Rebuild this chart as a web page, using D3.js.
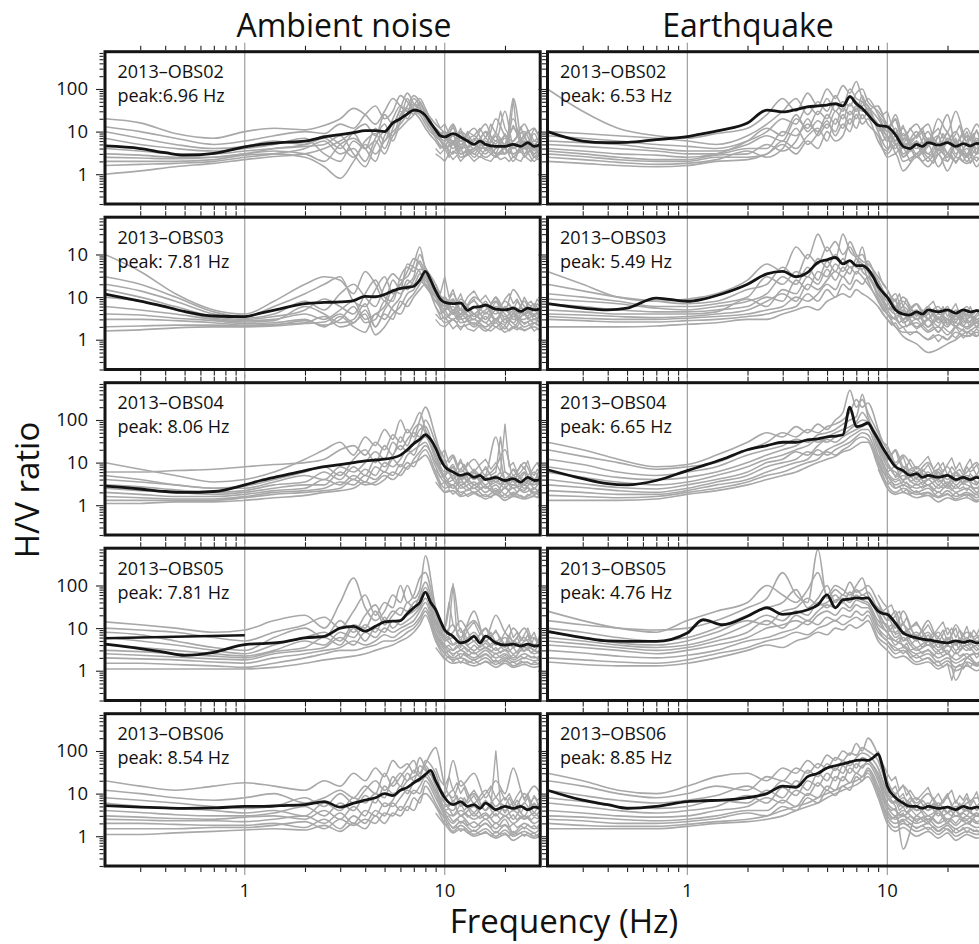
<!DOCTYPE html>
<html>
<head>
<meta charset="utf-8">
<script src="https://cdn.jsdelivr.net/npm/d3@7"></script>
<style>
  html, body { margin: 0; padding: 0; background: #ffffff; }
  svg { display: block; }
</style>
</head>
<body>
<svg id="chart" width="979" height="944"></svg>
<script>
// ---------------- DATA ----------------
const columnTitles = ["Ambient noise", "Earthquake"];
const stations = ["2013\u2013OBS02", "2013\u2013OBS03", "2013\u2013OBS04", "2013\u2013OBS05", "2013\u2013OBS06"];
const peaksAmbient = ["peak:6.96 Hz", "peak: 7.81 Hz", "peak: 8.06 Hz", "peak: 7.81 Hz", "peak: 8.54 Hz"];
const peaksQuake = ["peak: 6.53 Hz", "peak: 5.49 Hz", "peak: 6.65 Hz", "peak: 4.76 Hz", "peak: 8.85 Hz"];

const freqDomain = [0.2, 30];
const ratioDomain = [0.2, 750];
const xMajorTicks = [1, 10];
const xTickLabels = ["1", "10"];
const xMinorTicks = [0.3, 0.4, 0.5, 0.6, 0.7, 0.8, 0.9, 2, 3, 4, 5, 6, 7, 8, 9, 20];
const yMajorTicks = [100, 10, 1];
const yMinorTicks = [0.2, 0.3, 0.4, 0.5, 0.6, 0.7, 0.8, 0.9, 2, 3, 4, 5, 6, 7, 8, 9,
                     20, 30, 40, 50, 60, 70, 80, 90, 200, 300, 400, 500, 600, 700];
const rowYTickLabels = [["100", "10", "1"], ["10", "10", "1"], ["100", "10", "1"], ["100", "10", "1"], ["100", "10", "1"]];
const xAxisTitle = "Frequency (Hz)";
const yAxisTitle = "H/V ratio";

// frequencies (Hz) at which the individual (gray) curves are sampled
const freqGray = [0.2, 0.3, 0.45, 0.7, 1, 1.4, 2, 2.5, 3, 3.5, 4, 4.5, 5, 5.5, 6, 6.5, 7, 7.5, 8, 9, 10, 11, 12, 14, 16, 18, 20, 22, 25, 28, 30];
// frequencies (Hz) for the noisy high-frequency part of further individual curves
const freqHigh = [9, 9.5, 10, 10.5, 11, 11.5, 12, 12.5, 13, 14, 15, 16, 17, 18, 19, 20, 21, 22, 23, 24, 25, 26, 27, 28, 29, 30];
// frequencies (Hz) at which the mean (black) curves are sampled
const freqMedian = [0.2, 0.3, 0.4, 0.5, 0.7, 1, 1.2, 1.5, 2, 2.5, 3, 3.5, 4, 4.5, 5, 5.5, 6, 6.5, 7, 7.5, 8, 8.5, 9, 9.5, 10, 11, 12, 13, 14, 15, 16, 18, 20, 22, 24, 26, 28, 30];

// ---- Ambient noise ----
const ambientOBS02Gray = [
  [20, 16, 9, 7, 10, 12, 11, 14, 20, 35, 25, 15, 30, 60, 40, 30, 45, 35, 20, 12, 8, 15, 6, 12, 5, 20, 8, 6, 15, 5, 8],
  [13, 10, 7, 5, 6, 8, 10, 9, 15, 12, 25, 40, 20, 30, 70, 50, 30, 25, 15, 8, 10, 6, 9, 4, 10, 6, 30, 5, 8, 12, 6],
  [10, 7, 5, 4, 4.5, 6, 5, 7, 4, 10, 15, 8, 25, 15, 35, 80, 45, 30, 20, 10, 6, 12, 5, 8, 4, 9, 5, 12, 4, 6, 5],
  [7, 5, 4, 3.5, 4, 5, 7, 3, 2, 6, 4, 12, 6, 20, 40, 30, 60, 40, 18, 9, 5, 8, 4, 6, 15, 4, 7, 4, 6, 3, 4],
  [4, 3.5, 3, 3, 3.5, 4, 4.5, 5, 8, 3, 1.5, 5, 10, 8, 25, 40, 70, 50, 25, 12, 7, 5, 10, 5, 4, 8, 3, 6, 10, 4, 5],
  [3, 2.8, 2.5, 2.5, 3, 3.5, 3, 2, 5, 7, 4, 2, 8, 15, 20, 35, 25, 45, 30, 15, 9, 4, 6, 3, 7, 3, 5, 20, 3, 9, 4],
  [2.5, 2.4, 2.3, 2.5, 3, 4, 5, 8, 5, 2.5, 6, 9, 4, 12, 30, 20, 40, 60, 35, 10, 6, 9, 3, 5, 3, 6, 4, 3, 5, 3, 6],
  [2, 2, 2, 2.2, 2.8, 3, 2.5, 1.5, 0.8, 2, 5, 3, 6, 10, 15, 25, 35, 30, 20, 8, 5, 3, 7, 2.5, 5, 2.5, 4, 2, 7, 2.5, 3],
  [1.6, 1.7, 1.8, 2, 2.5, 3, 4, 6, 3, 4, 2, 7, 15, 6, 18, 60, 30, 20, 12, 6, 4, 6, 3, 4, 2.5, 4, 8, 3, 4, 2, 3.5],
  [1, 1.2, 1.5, 1.8, 2.2, 2.6, 3, 4, 6, 9, 4, 6, 3, 8, 12, 18, 25, 50, 25, 7, 4, 5, 2.5, 3.5, 6, 3, 3, 60, 3, 4, 2.5]
];
const ambientOBS02GrayHigh = [
  [20, 12, 15, 9, 14, 8, 12, 7, 10, 8, 12, 7, 15, 9, 30, 12, 8, 14, 9, 13, 7, 11, 8, 12, 9, 10],
  [12, 8, 10, 6, 9, 5, 8, 6, 9, 5, 7, 10, 6, 8, 5, 9, 6, 60, 8, 6, 9, 5, 8, 6, 7, 6],
  [8, 6, 4, 7, 5, 8, 4, 6, 4, 7, 5, 4, 6, 5, 7, 4, 6, 4, 5, 7, 4, 6, 5, 4, 6, 5],
  [6, 4, 5, 3, 6, 4, 3.5, 5, 3, 4, 6, 3.5, 4.5, 3, 5, 4, 3, 5, 3.5, 4, 6, 3, 4.5, 3.5, 4, 4.5],
  [4, 3, 4, 2.5, 3.5, 3, 4.5, 2.5, 3.5, 3, 2.5, 4, 3, 2.5, 3.5, 3, 4, 2.5, 3, 3.5, 2.5, 3, 4, 2.5, 3, 3],
  [3, 2.5, 2, 3, 2.2, 2.8, 2, 2.5, 3, 2, 2.6, 2.2, 2, 2.8, 2.2, 2.5, 2, 2.6, 2.2, 2, 2.8, 2.3, 2, 2.6, 2.2, 2.4]
];
const ambientOBS02Median = [4.6, 4.0, 3.2, 2.8, 3.1, 4.4, 5, 5.5, 6, 7.5, 8.5, 9.5, 10.5, 10.5, 10, 16, 20, 26, 32, 30, 24, 16, 11, 8, 7.5, 9, 7.5, 6, 5, 6, 5, 4.5, 4.5, 5, 4.5, 5.5, 4.5, 5];

const ambientOBS03Gray = [
  [100, 40, 12, 5, 4, 8, 20, 30, 25, 12, 40, 20, 8, 25, 15, 60, 50, 40, 20, 10, 6, 12, 5, 8, 4, 10, 5, 15, 6, 4, 5],
  [30, 20, 10, 4.5, 3.5, 6, 12, 20, 30, 8, 6, 15, 30, 12, 20, 40, 80, 60, 30, 12, 5, 8, 4, 10, 6, 4, 8, 5, 4, 7, 4],
  [20, 14, 8, 4, 3.2, 4, 8, 5, 12, 20, 10, 6, 18, 35, 25, 30, 60, 150, 40, 8, 10, 5, 7, 3.5, 5, 8, 3, 6, 4, 5, 3.5],
  [15, 10, 6, 3.5, 3, 3.5, 5, 9, 6, 4, 12, 25, 10, 8, 30, 50, 40, 70, 35, 15, 8, 4, 9, 4, 7, 3, 5, 3.5, 8, 3, 4],
  [10, 8, 5, 3.2, 2.8, 3, 4, 3, 5, 8, 3, 4, 6, 15, 12, 20, 30, 100, 50, 20, 6, 9, 3.5, 6, 3, 6, 4, 2.5, 5, 3.5, 6],
  [6, 5, 4, 3, 2.6, 2.8, 6, 4, 2.5, 3, 7, 2, 5, 10, 20, 15, 25, 45, 40, 12, 7, 4, 5, 3, 8, 2.5, 6, 3, 3, 5, 3],
  [4, 3.8, 3.2, 2.8, 2.4, 2.5, 3, 2, 3.5, 2, 1.5, 4, 3, 6, 10, 25, 20, 35, 25, 10, 5, 6, 3, 4, 2.5, 5, 2.5, 4, 2.5, 3, 2.5],
  [3, 3, 2.8, 2.5, 2.2, 2.3, 2.5, 3.5, 2, 2.5, 4, 1.3, 2, 4, 6, 12, 15, 25, 18, 8, 4, 3, 4, 2, 3.5, 2, 3, 2, 4, 2.5, 3],
  [2, 2.1, 2.2, 2.2, 2.1, 2.2, 2.8, 2.2, 3, 6, 2.5, 3, 8, 5, 4, 8, 12, 20, 30, 12, 3, 5, 2.5, 3, 2, 3, 1.8, 3.5, 2, 2.5, 2],
  [1.6, 1.7, 1.9, 2, 2, 2.1, 2.4, 2.6, 4, 2.5, 5, 2, 4, 3, 8, 6, 10, 15, 20, 6, 2.5, 3, 2, 2.5, 1.6, 2.5, 1.5, 2, 1.7, 2, 1.6]
];
const ambientOBS03GrayHigh = [
  [20, 12, 30, 10, 15, 8, 12, 7, 10, 14, 8, 11, 7, 10, 6, 9, 12, 7, 9, 6, 10, 7, 8, 6, 9, 7],
  [12, 8, 10, 6, 9, 7, 5, 8, 6, 9, 5, 7, 5, 8, 6, 5, 7, 5, 8, 6, 5, 7, 6, 5, 7, 6],
  [8, 6, 5, 7, 4, 6, 5, 4, 6, 4, 5, 7, 4, 5, 4, 6, 4, 5, 3.5, 6, 4, 5, 4, 6, 4.5, 5],
  [6, 4, 5, 3.5, 4.5, 3, 4, 5, 3, 4, 3, 4.5, 3.5, 3, 4, 3.5, 3, 4.5, 3, 3.5, 4, 3, 3.5, 4, 3, 3.5],
  [4, 3, 3.5, 2.5, 3, 2.5, 3.5, 2.5, 3, 2.2, 3, 2.5, 2, 3, 2.5, 2.2, 3, 2.4, 2, 2.8, 2.3, 2.6, 2, 2.5, 2.2, 2.4],
  [3, 2.2, 2, 2.5, 1.8, 2.2, 1.7, 2.3, 1.8, 1.6, 2.2, 1.8, 1.6, 2, 1.7, 2.1, 1.6, 1.9, 1.7, 2, 1.6, 1.8, 2, 1.6, 1.8, 1.7]
];
const ambientOBS03Median = [11.8, 8, 6, 4.6, 3.6, 3.5, 4.2, 5.3, 7, 7.5, 7.7, 8.3, 10.4, 10.2, 11.5, 14, 16, 17, 18, 25, 40, 25, 14, 9, 7.5, 7, 7.3, 4.9, 5.8, 6, 6.5, 5.2, 5, 5.5, 4.6, 5.5, 5, 5.2];

const ambientOBS04Gray = [
  [10, 7, 5, 3.5, 4, 6, 12, 20, 30, 15, 40, 25, 60, 35, 100, 50, 80, 150, 60, 20, 10, 15, 6, 12, 5, 8, 20, 5, 10, 4, 8],
  [6, 6, 6.5, 7, 8, 9, 10, 12, 20, 25, 15, 30, 20, 45, 30, 60, 40, 100, 200, 40, 8, 5, 10, 4, 7, 3.5, 6, 4, 3, 6, 3.5],
  [5, 4, 3, 2.5, 2.8, 4, 6, 8, 5, 12, 20, 10, 25, 15, 40, 25, 60, 80, 50, 15, 6, 8, 4, 6, 3, 5, 3, 7, 3.5, 3, 5],
  [4, 3.5, 3, 2.5, 2.5, 3.5, 5, 4, 8, 6, 10, 18, 12, 30, 20, 35, 50, 40, 100, 30, 12, 4, 7, 3, 5, 40, 4, 3, 6, 2.5, 4],
  [3, 2.7, 2.3, 2, 2.2, 3, 3.5, 6, 4, 8, 5, 12, 8, 15, 25, 18, 30, 60, 70, 15, 5, 9, 3, 5, 2.5, 4, 2.5, 5, 2.5, 4, 3],
  [2.5, 2.2, 2, 1.8, 2, 2.5, 3, 3, 6, 4, 7, 5, 10, 8, 12, 20, 15, 30, 40, 12, 4, 3, 5, 2.5, 4, 2, 3.5, 2.5, 3, 2, 2.5],
  [2, 1.8, 1.6, 1.6, 1.8, 2.2, 2.5, 4, 3, 5, 3.5, 8, 6, 12, 8, 15, 20, 25, 30, 8, 3.5, 5, 2.5, 3.5, 2, 3, 1.8, 3, 2, 2.5, 1.8],
  [1.6, 1.5, 1.4, 1.4, 1.6, 2, 2.2, 2.5, 3.5, 3, 5, 4, 6, 5, 9, 7, 12, 18, 25, 10, 4, 2.5, 3.5, 2, 2.8, 1.8, 2.5, 1.7, 3, 1.8, 2.2],
  [1.3, 1.3, 1.3, 1.3, 1.5, 1.8, 2, 2.2, 2.5, 4, 3, 3.5, 5, 4, 6, 10, 8, 15, 20, 6, 2.5, 3, 2, 2.5, 1.6, 2.2, 1.5, 2, 1.5, 2, 1.6],
  [1.1, 1.1, 1.2, 1.2, 1.3, 1.5, 1.7, 2, 2.2, 2.5, 3.5, 3, 4, 6, 5, 8, 10, 12, 15, 5, 2, 2.2, 1.6, 2, 1.4, 1.8, 1.3, 1.6, 1.4, 1.6, 1.5]
];
const ambientOBS04GrayHigh = [
  [30, 15, 20, 10, 14, 8, 12, 7, 10, 6, 9, 12, 7, 10, 6, 80, 8, 10, 6, 9, 7, 11, 6, 8, 10, 7],
  [15, 9, 12, 6, 8, 5, 7, 9, 5, 7, 5, 8, 5, 6, 40, 6, 5, 7, 5, 6, 8, 5, 6, 5, 7, 6],
  [10, 6, 5, 7, 4, 6, 4, 5, 3.5, 6, 4, 5, 3.5, 4.5, 6, 4, 5, 3.5, 5, 4, 6, 3.5, 5, 4, 4.5, 5],
  [7, 4.5, 5, 3.5, 4, 3, 4.5, 3, 4, 3, 3.5, 4.5, 3, 3.5, 3, 4, 3, 4, 2.8, 3.5, 3, 4, 3, 3.5, 3, 3.5],
  [5, 3, 3.5, 2.5, 3, 2.2, 3, 2.5, 2.2, 3, 2.4, 2.8, 2.2, 2.5, 2, 2.8, 2.2, 2.6, 2, 2.4, 2.2, 2.6, 2, 2.5, 2.2, 2.3],
  [3.5, 2.5, 2, 2.3, 1.8, 2.2, 1.7, 2, 1.6, 1.9, 1.6, 1.8, 1.5, 2, 1.6, 1.8, 1.5, 1.9, 1.6, 1.7, 1.5, 1.8, 1.6, 1.7, 1.5, 1.6]
];
const ambientOBS04Median = [2.8, 2.4, 2.1, 2, 2.1, 3, 3.8, 4.8, 6.5, 8, 9, 10, 11, 11.5, 12, 13, 15, 20, 28, 35, 45, 35, 22, 12, 8, 6, 5, 5.5, 4.5, 5, 4, 4.5, 3.8, 4.2, 3.5, 4.5, 3.8, 4];

const ambientOBS05Gray = [
  [14, 12, 10, 8, 9, 15, 20, 10, 40, 150, 30, 15, 25, 60, 40, 100, 50, 80, 500, 30, 10, 100, 8, 15, 6, 20, 8, 5, 10, 4, 6],
  [10, 9, 8, 6, 5, 8, 12, 18, 10, 25, 60, 20, 40, 30, 100, 40, 60, 150, 200, 25, 8, 12, 6, 25, 5, 8, 4, 10, 5, 6, 4],
  [8, 7, 5, 3.5, 3, 6, 10, 6, 15, 8, 20, 35, 15, 25, 20, 40, 30, 60, 120, 20, 6, 8, 15, 5, 10, 4, 6, 3.5, 6, 3, 5],
  [6, 5, 4, 3, 2.5, 4, 6, 8, 5, 12, 10, 25, 12, 20, 30, 25, 40, 50, 90, 15, 5, 6, 4, 8, 3.5, 5, 3, 5, 3, 4, 3.5],
  [4, 3.5, 3, 2.5, 2.2, 3, 5, 4, 8, 6, 12, 8, 18, 10, 15, 20, 25, 35, 70, 12, 6, 4, 5, 3, 5, 3, 4, 2.5, 4, 3, 2.5],
  [3, 2.8, 2.5, 2.2, 2, 2.8, 3.5, 6, 4, 10, 5, 10, 8, 15, 12, 15, 20, 30, 50, 10, 4, 3, 4, 2.5, 3.5, 2.5, 3, 2, 3.5, 2.5, 3],
  [2.5, 2.3, 2.1, 1.9, 1.8, 2.5, 3, 3.5, 6, 4, 8, 6, 10, 8, 10, 12, 15, 25, 40, 8, 3.5, 2.5, 3, 2, 3, 2, 2.5, 1.8, 2.5, 2, 2.2],
  [2, 1.9, 1.8, 1.6, 1.5, 2, 2.5, 3, 3.5, 5, 4, 5, 7, 6, 8, 10, 12, 18, 30, 7, 3, 2, 2.5, 1.8, 2.5, 1.6, 2, 1.6, 2, 1.7, 1.8],
  [1.5, 1.5, 1.4, 1.3, 1.2, 1.5, 2, 2.5, 3, 3, 3.5, 4, 5, 5, 6, 8, 10, 15, 25, 6, 2.5, 1.8, 2, 1.5, 2, 1.4, 1.8, 1.3, 1.6, 1.4, 1.5],
  [1.1, 1.1, 1.1, 1.1, 1.1, 1.2, 1.5, 1.8, 2, 2.2, 2.5, 3, 3.5, 4, 5, 6, 8, 12, 20, 5, 2, 1.5, 1.6, 1.3, 1.6, 1.2, 1.5, 1.2, 1.4, 1.2, 1.3]
];
const ambientOBS05GrayHigh = [
  [30, 15, 10, 40, 12, 8, 10, 6, 9, 14, 7, 10, 6, 9, 5, 8, 12, 6, 8, 5, 7, 10, 6, 8, 5, 7],
  [15, 10, 6, 9, 110, 7, 5, 8, 5, 7, 4.5, 6, 8, 4.5, 6, 4, 7, 4.5, 6, 4, 5, 7, 4, 6, 4.5, 5],
  [10, 7, 5, 6, 4, 5, 3.5, 6, 4, 5, 3.5, 4.5, 3.5, 5, 4, 3.5, 5, 3.5, 4.5, 3.5, 4, 3, 4.5, 3.5, 4, 3.5],
  [7, 5, 3.5, 4, 3, 4, 3, 3.5, 2.8, 4, 3, 3.5, 2.8, 3.5, 2.6, 3.2, 2.8, 3.6, 2.6, 3, 2.8, 3.4, 2.6, 3, 2.8, 3],
  [5, 3.5, 2.5, 3, 2.2, 2.8, 2, 2.6, 2.2, 2.8, 2, 2.4, 2, 2.6, 2, 2.3, 1.9, 2.4, 2, 2.2, 1.9, 2.3, 2, 2.2, 1.9, 2.1],
  [3.5, 2.5, 1.8, 2.2, 1.6, 2, 1.5, 1.9, 1.5, 1.8, 1.4, 1.7, 1.5, 1.8, 1.4, 1.7, 1.5, 1.6, 1.4, 1.7, 1.5, 1.6, 1.4, 1.6, 1.5, 1.5]
];
const ambientOBS05Median = [4.2, 3.3, 2.7, 2.3, 2.7, 4.1, 4.3, 4.6, 5.9, 6.4, 10, 11, 8.5, 11, 14, 14.5, 15, 22, 30, 40, 70, 40, 27, 15, 9, 6.4, 4.5, 5, 6.4, 4.5, 6.5, 4.5, 4, 4.2, 3.8, 4.2, 3.8, 4];
const ambientOBS05ExtraFreq = [0.2, 1];
const ambientOBS05ExtraValues = [5.8, 6.8];

const ambientOBS06Gray = [
  [20, 15, 12, 15, 18, 15, 12, 20, 15, 30, 20, 40, 25, 60, 40, 50, 30, 70, 40, 20, 10, 60, 15, 30, 8, 20, 10, 40, 8, 15, 10],
  [12, 10, 8, 7, 8, 10, 6, 8, 12, 8, 15, 10, 30, 15, 25, 40, 60, 30, 50, 120, 15, 8, 20, 6, 12, 5, 8, 4, 10, 5, 6],
  [8, 7, 6, 5, 4.5, 5, 8, 5, 10, 6, 12, 20, 12, 18, 30, 20, 35, 25, 60, 30, 8, 12, 5, 10, 4, 8, 4, 6, 3, 8, 4],
  [6, 5, 4.5, 4, 3.5, 4, 3, 6, 4, 8, 6, 10, 8, 25, 15, 30, 20, 45, 35, 20, 6, 4, 8, 3, 6, 3, 5, 2.5, 6, 3, 4],
  [4, 3.6, 3.2, 3, 3, 3.5, 5, 3, 6, 4, 9, 6, 15, 10, 12, 20, 25, 30, 45, 15, 5, 6, 3, 5, 2.5, 4, 3, 4, 2.5, 3.5, 2.5],
  [3, 2.8, 2.6, 2.5, 2.8, 3, 2.5, 4, 2.5, 5, 3, 8, 5, 7, 15, 10, 18, 20, 30, 12, 4, 3, 4, 2.5, 3.5, 2, 3, 2, 3, 2, 2.5],
  [2.5, 2.4, 2.3, 2.3, 2.2, 2.5, 3, 2, 3.5, 2, 4, 3, 6, 5, 8, 12, 10, 15, 25, 10, 3.5, 2, 3, 1.6, 2.5, 1.5, 2.5, 1.2, 2, 1.5, 2],
  [2, 2, 1.9, 1.8, 1.8, 2, 1.6, 2.5, 1.5, 3, 2, 4, 3, 6, 4, 7, 12, 10, 20, 8, 3, 1.6, 2.2, 1.3, 2, 1.2, 1.8, 1.1, 1.6, 1.2, 1.5],
  [1.5, 1.5, 1.5, 1.6, 1.6, 1.8, 2.2, 1.5, 2.5, 1.8, 2.5, 2, 3.5, 3, 5, 4, 8, 6, 15, 6, 2.5, 1.3, 1.8, 1.1, 1.5, 1, 1.4, 1, 1.3, 1, 1.2],
  [1.1, 1.1, 1.2, 1.3, 1.4, 1.5, 1.4, 1.8, 1.3, 2, 1.5, 3, 2, 3.5, 3, 5, 4, 8, 10, 5, 2, 1.2, 1.5, 1, 1.2, 0.9, 1.1, 0.8, 1.1, 0.9, 1]
];
const ambientOBS06GrayHigh = [
  [40, 20, 15, 25, 12, 18, 10, 14, 8, 12, 7, 10, 15, 8, 12, 7, 10, 6, 9, 12, 7, 10, 6, 9, 7, 8],
  [20, 12, 8, 10, 6, 9, 5, 8, 6, 9, 5, 7, 5, 100, 6, 5, 8, 5, 7, 5, 6, 8, 5, 6, 5, 6],
  [12, 8, 6, 5, 7, 4, 6, 4, 5, 3.5, 5, 4, 6, 4, 5, 3.5, 5, 4, 4.5, 3.5, 5, 4, 4.5, 3.5, 4.5, 4],
  [8, 5, 4, 4.5, 3, 4, 3, 3.5, 2.8, 3.5, 2.6, 3.2, 2.6, 3.4, 2.5, 3, 2.6, 3.2, 2.4, 3, 2.6, 3, 2.4, 2.8, 2.6, 2.8],
  [5, 3.5, 2.8, 3, 2.2, 2.6, 2, 2.4, 1.8, 2.2, 1.7, 2, 1.6, 2.1, 1.7, 1.9, 1.6, 2, 1.6, 1.8, 1.5, 1.9, 1.6, 1.8, 1.5, 1.7],
  [3.5, 2.5, 1.8, 2, 1.5, 1.7, 1.3, 1.5, 1.2, 1.4, 1.1, 1.3, 1, 1.3, 1.1, 1.2, 1, 1.3, 1.1, 1.2, 1, 1.2, 1.1, 1.2, 1, 1.1]
];
const ambientOBS06Median = [5.2, 4.8, 4.6, 4.5, 4.6, 5, 5, 5.2, 5.5, 6.5, 4.8, 6, 7, 8, 10, 9, 12, 14, 18, 22, 28, 35, 20, 12, 8, 5.5, 6.5, 5, 5.5, 4.5, 6, 4.2, 5, 4.5, 5, 4.2, 4.8, 4.5];

// ---- Earthquake ----
const quakeOBS02Gray = [
  [100, 30, 12, 8, 7, 9, 12, 25, 60, 30, 80, 40, 100, 60, 120, 80, 150, 60, 40, 20, 10, 25, 8, 15, 5, 20, 10, 30, 6, 15, 8],
  [10, 9, 8, 7, 6, 5, 8, 15, 30, 60, 25, 50, 30, 70, 40, 100, 60, 50, 30, 15, 6, 12, 4, 10, 3, 8, 25, 5, 12, 4, 6],
  [8, 7, 6, 5, 4.5, 4, 6, 10, 20, 15, 40, 25, 60, 30, 50, 40, 80, 100, 50, 30, 15, 6, 12, 3, 7, 4, 9, 3, 8, 5, 3],
  [6, 5.5, 5, 4, 3.5, 3.5, 5, 8, 6, 20, 12, 30, 20, 45, 30, 70, 50, 40, 60, 25, 10, 20, 5, 8, 15, 3, 6, 10, 3, 7, 4],
  [5, 4.5, 4, 3.5, 3, 3, 4, 4, 10, 8, 15, 10, 25, 15, 35, 25, 40, 30, 35, 12, 8, 4, 9, 2.5, 5, 8, 2, 5, 2.5, 6, 9],
  [4, 3.5, 3, 2.8, 2.5, 3, 6, 12, 8, 25, 10, 18, 12, 30, 20, 45, 30, 70, 25, 15, 6, 12, 3, 6, 2.5, 5, 3, 2, 5, 3, 4],
  [3.5, 3, 2.5, 2.2, 2.2, 2.8, 3, 5, 3.5, 6, 20, 8, 15, 10, 25, 15, 35, 20, 30, 40, 12, 5, 7, 4, 10, 3, 7, 4, 3, 10, 3],
  [3, 2.6, 2.2, 2, 2, 2.5, 2.5, 3, 6, 4, 8, 12, 6, 20, 12, 30, 20, 50, 40, 10, 4, 8, 2.5, 5, 2, 4, 2.5, 6, 2, 4, 2.5],
  [2.5, 2.2, 1.9, 1.7, 1.8, 2.2, 3.5, 2.5, 4, 12, 5, 9, 18, 8, 15, 10, 25, 15, 20, 6, 3, 5, 2, 3, 5, 1.5, 3, 2, 4, 1.5, 3],
  [2, 1.8, 1.6, 1.5, 1.6, 2, 2.2, 3, 5, 3, 6, 4, 10, 6, 8, 20, 12, 25, 15, 8, 2.5, 3, 1.2, 2.5, 1.5, 3, 1.2, 2.5, 1.8, 2.5, 1.5]
];
const quakeOBS02GrayHigh = [
  [40, 25, 30, 15, 20, 10, 14, 8, 12, 7, 10, 6, 9, 12, 7, 10, 6, 9, 14, 7, 10, 6, 8, 11, 7, 9],
  [25, 18, 12, 16, 9, 12, 6, 9, 5, 8, 12, 5, 7, 5, 9, 6, 8, 5, 7, 10, 5, 7, 9, 5, 6, 7],
  [15, 10, 14, 8, 6, 9, 5, 7, 4, 6, 4, 7, 5, 8, 4, 6, 5, 7, 4, 6, 8, 4, 6, 5, 7, 5],
  [10, 12, 7, 9, 5, 6, 4, 5, 3.5, 5, 3, 4.5, 6, 3.5, 5, 3, 4.5, 6, 3, 4, 5, 3.5, 4.5, 3, 5, 4],
  [8, 6, 8, 4, 5, 3.5, 4.5, 3, 4, 2.5, 3.5, 3, 2.5, 4, 3, 2.5, 3.5, 2.5, 4, 3, 2.5, 3.5, 2.5, 3, 4, 3],
  [6, 4, 3.5, 5, 3, 4, 2.5, 3, 2, 3, 2, 2.5, 1.8, 3, 2.2, 2, 2.8, 1.8, 2.5, 2, 3, 1.8, 2.4, 2, 2.6, 2.2]
];
const quakeOBS02Median = [10, 6, 5.5, 5.6, 6.5, 7.6, 9, 11, 16, 32, 29, 33, 38, 40, 42, 45, 40, 66, 45, 35, 25, 18, 14, 13.5, 13, 8.4, 4.5, 4, 5, 4.5, 5.5, 4.8, 5.5, 4.5, 5.2, 4.6, 5.3, 5];

const quakeOBS03Gray = [
  [40, 20, 10, 8, 9, 12, 25, 60, 40, 150, 80, 300, 120, 200, 100, 150, 80, 60, 40, 20, 10, 5, 8, 3, 6, 2.5, 5, 3, 6, 2, 4],
  [20, 14, 10, 8, 7, 8, 15, 20, 50, 30, 100, 60, 150, 80, 300, 120, 90, 100, 50, 25, 8, 12, 4, 7, 3, 5, 2.5, 4, 3, 5, 3],
  [12, 10, 8, 6, 6, 7, 10, 30, 20, 40, 30, 80, 50, 100, 60, 200, 100, 70, 60, 30, 15, 6, 10, 4, 5, 3, 6, 2, 5, 3, 4],
  [9, 8, 7, 5.5, 5, 6, 8, 12, 30, 20, 50, 25, 70, 40, 80, 50, 60, 150, 40, 15, 6, 4, 6, 3, 4, 6, 2.5, 5, 2.5, 4, 6],
  [7, 6, 5, 4.5, 4.5, 5, 6, 10, 8, 25, 15, 40, 30, 60, 40, 70, 50, 45, 70, 20, 10, 8, 3, 5, 2, 4, 3, 2, 4, 2.5, 3],
  [5, 4.5, 4, 4, 4, 4.5, 9, 6, 15, 12, 30, 20, 45, 25, 50, 35, 80, 40, 30, 12, 5, 3, 5, 2, 3, 1.5, 3, 2.5, 2, 3, 2],
  [4, 3.8, 3.5, 3.3, 3.5, 4, 5, 8, 12, 8, 20, 15, 25, 40, 30, 50, 35, 60, 25, 8, 4, 2, 1.2, 0.8, 0.5, 0.6, 0.8, 1, 1.5, 1.2, 2],
  [3.5, 3.2, 3, 3, 3.2, 3.5, 4, 5, 6, 10, 8, 12, 20, 15, 30, 20, 40, 30, 20, 9, 5, 6, 2.5, 4, 2, 3, 2, 3.5, 1.8, 2.5, 2],
  [3, 2.8, 2.6, 2.6, 2.8, 3, 3.5, 4, 5, 6, 12, 8, 15, 10, 20, 15, 25, 20, 30, 10, 4, 3, 2, 2.5, 1.5, 2, 1.3, 2, 1.5, 2, 1.6],
  [2, 2, 2, 2.1, 2.3, 2.5, 3, 3, 4, 5, 6, 5, 8, 10, 12, 10, 15, 12, 10, 6, 3, 2, 1.5, 1.5, 1, 1.3, 1, 1.5, 1.2, 1.5, 1.2]
];
const quakeOBS03GrayHigh = [
  [40, 20, 15, 10, 8, 12, 6, 9, 5, 7, 4, 6, 8, 4, 6, 3.5, 5, 7, 4, 5, 3.5, 6, 4, 5, 3.5, 5],
  [25, 15, 10, 7, 9, 5, 6, 4, 5.5, 3.5, 5, 3, 4.5, 3, 4, 5, 3, 4, 3, 4.5, 3, 4, 3, 3.5, 4, 3],
  [15, 10, 8, 5, 6, 4, 5, 3, 4, 3, 3.5, 4.5, 2.5, 3.5, 2.5, 3, 4, 2.5, 3.5, 2.5, 3, 2.5, 3.5, 2.5, 3, 2.5],
  [12, 8, 5, 6, 3.5, 4, 3, 3.5, 2.5, 3.2, 2.2, 3, 2.5, 2, 3, 2.2, 2.8, 2, 2.5, 2, 2.8, 2, 2.4, 2, 2.6, 2.2],
  [8, 5, 4, 3, 3.5, 2.5, 3, 2, 2.5, 1.8, 2.2, 1.6, 2, 1.5, 2, 1.6, 1.4, 2, 1.5, 1.8, 1.4, 1.7, 1.5, 1.8, 1.5, 1.6],
  [6, 4, 3, 2.2, 2.5, 1.8, 2, 1.5, 1.3, 1.6, 1.2, 1, 1.3, 0.9, 1.2, 1, 1.3, 1.1, 1.4, 1.1, 1.3, 1.2, 1.5, 1.2, 1.4, 1.3]
];
const quakeOBS03Median = [7, 5.5, 5, 5.5, 9.5, 8, 9, 12, 20, 35, 40, 30, 38, 65, 75, 85, 60, 72, 55, 55, 45, 30, 18, 13, 10, 5, 4, 3.8, 4.5, 4, 5, 4.5, 5, 4.2, 5, 4.5, 4.8, 4.5];

const quakeOBS04Gray = [
  [30, 20, 12, 8, 9, 15, 30, 50, 40, 70, 50, 80, 60, 100, 150, 500, 200, 300, 150, 50, 20, 10, 15, 6, 10, 5, 8, 4, 6, 10, 5],
  [20, 14, 10, 7, 8, 10, 20, 30, 50, 40, 60, 50, 70, 80, 100, 150, 300, 200, 250, 60, 12, 20, 8, 6, 5, 7, 4, 6, 3.5, 5, 4],
  [12, 9, 6, 5, 6, 8, 15, 20, 25, 35, 30, 45, 50, 60, 80, 100, 120, 400, 120, 40, 15, 8, 6, 8, 4, 6, 3, 5, 4, 3, 6],
  [8, 6, 4.5, 4, 4.5, 6, 10, 15, 20, 25, 35, 30, 40, 50, 60, 70, 90, 150, 100, 30, 10, 5, 8, 3.5, 6, 3, 5, 3, 5, 3.5, 3],
  [6, 4.5, 3.5, 3, 3.5, 5, 8, 12, 15, 20, 25, 35, 30, 40, 45, 60, 80, 100, 90, 25, 8, 6, 4, 5, 3, 4, 2.5, 4, 3, 2.5, 4],
  [4, 3.2, 2.6, 2.4, 3, 4, 6, 10, 12, 18, 15, 25, 35, 30, 40, 50, 60, 70, 80, 20, 6, 4, 5, 3, 4, 2.5, 3.5, 2.5, 4, 2, 3],
  [3, 2.6, 2.2, 2, 2.5, 3.5, 5, 8, 10, 12, 18, 15, 20, 25, 30, 40, 50, 60, 60, 15, 5, 3, 3.5, 2.5, 3, 2, 3, 2, 2.5, 1.8, 2.5],
  [2.2, 2, 1.8, 1.8, 2.2, 3, 4, 6, 8, 10, 12, 20, 15, 20, 25, 30, 40, 50, 45, 12, 4, 2.5, 3, 2, 2.5, 1.6, 2.2, 1.6, 2, 1.5, 2],
  [1.7, 1.6, 1.5, 1.6, 2, 2.5, 3.5, 5, 6, 8, 10, 12, 18, 15, 20, 25, 35, 40, 35, 10, 3, 2, 2.5, 1.8, 2, 1.5, 1.8, 1.4, 1.8, 1.3, 1.7],
  [1.3, 1.3, 1.3, 1.4, 1.8, 2.2, 3, 4, 5, 6, 8, 10, 12, 14, 18, 20, 25, 30, 30, 8, 2.5, 1.8, 2, 1.5, 1.7, 1.2, 1.5, 1.3, 1.5, 1.2, 1.4]
];
const quakeOBS04GrayHigh = [
  [60, 30, 25, 15, 20, 10, 14, 8, 12, 7, 10, 14, 7, 10, 6, 9, 13, 7, 10, 6, 9, 12, 7, 9, 6, 8],
  [40, 20, 12, 16, 8, 11, 6, 9, 5, 8, 6, 9, 5, 7, 10, 5, 8, 6, 7, 5, 8, 6, 7, 5, 7, 6],
  [25, 14, 10, 7, 9, 5, 7, 4.5, 6, 4, 7, 5, 4, 6, 4.5, 5.5, 4, 6, 4.5, 5, 4, 5.5, 4.5, 5, 4, 5],
  [15, 10, 6, 7, 4.5, 5, 3.5, 5, 3.5, 4.5, 3, 4, 5, 3.5, 4, 3, 4.5, 3.5, 4, 3, 4, 3.5, 4, 3, 4, 3.5],
  [10, 6, 5, 4, 3.5, 4, 2.8, 3.5, 2.5, 3.2, 2.5, 3, 2.2, 3, 2.5, 2.8, 2.2, 3, 2.4, 2.7, 2.2, 2.8, 2.3, 2.6, 2.2, 2.5],
  [7, 4, 3, 3.5, 2.5, 2.8, 2, 2.4, 1.8, 2.2, 1.7, 2, 1.6, 2.1, 1.7, 1.9, 1.6, 2, 1.7, 1.8, 1.6, 1.9, 1.7, 1.8, 1.6, 1.8]
];
const quakeOBS04Median = [6.8, 4.2, 3.2, 3, 3.8, 6.5, 8.5, 12, 20, 25, 30, 30, 34, 36, 40, 42, 45, 200, 70, 75, 85, 55, 35, 22, 15, 8, 6.5, 5, 5.5, 4.5, 5, 4.5, 5, 4, 4.5, 4, 4.5, 4];

const quakeOBS05Gray = [
  [25, 15, 10, 8, 15, 25, 40, 100, 60, 40, 80, 200, 60, 100, 80, 60, 100, 150, 60, 30, 20, 10, 25, 6, 15, 5, 10, 4, 8, 5, 6],
  [15, 12, 10, 9, 10, 15, 30, 50, 200, 60, 40, 700, 50, 80, 60, 120, 70, 80, 100, 40, 15, 25, 8, 12, 5, 8, 4, 12, 4, 6, 8],
  [10, 8, 6, 5, 6, 10, 20, 30, 40, 80, 30, 50, 100, 40, 60, 50, 80, 60, 70, 25, 10, 8, 12, 5, 8, 3.5, 6, 3, 6, 3, 5],
  [8, 6, 4.5, 4, 5, 8, 15, 12, 25, 30, 50, 35, 40, 60, 40, 70, 50, 60, 50, 20, 8, 12, 5, 8, 4, 5, 2.5, 5, 3, 4, 3],
  [6, 5, 4, 3.5, 4, 6, 12, 20, 15, 25, 20, 40, 30, 45, 50, 40, 60, 45, 40, 15, 12, 6, 8, 3.5, 5, 3, 4, 2.5, 4, 2.5, 3.5],
  [5, 4.2, 3.5, 3, 3.5, 5, 8, 15, 10, 20, 15, 25, 35, 30, 40, 30, 45, 40, 35, 12, 8, 4, 6, 3, 4, 2.5, 3, 0.6, 2, 2.5, 2],
  [4, 3.5, 3, 2.5, 3, 4, 6, 10, 12, 15, 12, 20, 25, 20, 30, 25, 35, 30, 30, 10, 6, 5, 4, 2.5, 3, 2, 2.5, 1.8, 2.5, 1.5, 2],
  [3, 2.6, 2.2, 2, 2.3, 3, 5, 6, 8, 10, 15, 12, 18, 15, 20, 18, 25, 20, 25, 8, 5, 3, 3.5, 2, 2.5, 1.6, 2, 1.5, 2, 1.4, 1.8],
  [2, 1.8, 1.6, 1.5, 1.8, 2.5, 3.5, 5, 6, 8, 7, 10, 12, 15, 12, 15, 18, 15, 20, 6, 4, 2.5, 3, 1.6, 2, 1.3, 1.7, 1.2, 1.6, 1.3, 1.5],
  [1.6, 1.4, 1.3, 1.3, 1.5, 2, 3, 4, 3.5, 5, 6, 8, 7, 10, 9, 12, 10, 12, 15, 5, 3, 2, 2.2, 1.4, 1.6, 1.1, 1.4, 1, 1.3, 1, 1.2]
];
const quakeOBS05GrayHigh = [
  [60, 40, 30, 35, 20, 25, 12, 18, 10, 14, 8, 12, 7, 10, 14, 7, 10, 6, 9, 7, 11, 6, 9, 7, 10, 8],
  [40, 25, 30, 15, 20, 10, 14, 8, 10, 6, 9, 5, 8, 6, 9, 5, 7, 10, 5, 7, 5, 8, 6, 7, 5, 7],
  [30, 20, 15, 18, 10, 12, 7, 9, 6, 7, 5, 7, 4.5, 6, 4, 6, 5, 4, 6, 4.5, 5, 4, 5.5, 4.5, 5, 4.5],
  [20, 15, 10, 12, 7, 8, 5, 6, 4, 5.5, 3.5, 5, 3.5, 4.5, 3, 4, 3.5, 4.5, 3, 4, 3.5, 3, 4, 3.5, 3, 3.5],
  [15, 10, 8, 6, 5, 6, 3.5, 4.5, 3, 3.5, 2.5, 3.2, 2.2, 3, 2.2, 2.6, 2, 2.8, 2.2, 2.5, 2, 2.4, 2.6, 2, 2.4, 2.2],
  [10, 6, 5, 4, 3.5, 3, 2.5, 3, 2, 2.4, 1.8, 2, 1.5, 1.7, 1.2, 1.5, 0.6, 1.2, 1.4, 1.1, 1.5, 1.2, 1.6, 1.3, 1.5, 1.4]
];
const quakeOBS05Median = [8.4, 6, 5, 4.9, 4.9, 7.7, 15.7, 12, 19, 30, 21, 23, 27, 35, 60, 30, 46, 48, 51, 50, 51, 35, 25, 22, 21, 13, 7.7, 6.5, 5.9, 5.5, 5.3, 4.8, 4.5, 5, 4.6, 5, 4.5, 4.6];

const quakeOBS06Gray = [
  [30, 20, 12, 10, 15, 25, 30, 20, 40, 30, 60, 40, 80, 60, 100, 80, 150, 100, 200, 80, 20, 10, 15, 6, 10, 5, 8, 4, 6, 8, 5],
  [20, 15, 10, 8, 10, 15, 12, 25, 20, 40, 30, 50, 40, 70, 60, 90, 80, 120, 100, 60, 15, 8, 5, 8, 4, 6, 3.5, 5, 4, 3, 5],
  [12, 9, 7, 6, 7, 9, 15, 10, 20, 15, 35, 25, 50, 35, 60, 45, 70, 90, 80, 40, 10, 6, 8, 4, 6, 3, 5, 3, 4, 3, 3.5],
  [8, 6.5, 5, 4.5, 5, 7, 6, 12, 8, 20, 12, 30, 20, 40, 30, 60, 40, 70, 60, 30, 8, 5, 0.5, 3, 2, 4, 2.5, 3, 2.5, 3.5, 2.5],
  [6, 5, 4, 3.5, 4, 5, 9, 6, 14, 9, 20, 15, 30, 20, 45, 30, 50, 40, 60, 25, 6, 4, 3, 5, 2.5, 3.5, 2, 4, 2, 3, 2.5],
  [4, 3.5, 3, 2.8, 3, 4, 5, 8, 6, 12, 9, 18, 12, 25, 20, 40, 30, 45, 50, 20, 5, 3, 4, 2.5, 3, 2, 2.5, 1.8, 3, 2, 2],
  [3, 2.8, 2.5, 2.3, 2.5, 3, 4, 4, 7, 5, 10, 8, 15, 12, 25, 18, 30, 25, 40, 15, 4, 2.5, 3, 2, 2.5, 1.6, 2, 1.5, 2, 1.6, 1.8],
  [2.5, 2.3, 2, 2, 2.2, 2.6, 3.5, 3, 5, 4, 8, 6, 12, 9, 15, 12, 25, 20, 35, 12, 3, 2, 2.5, 1.6, 2, 1.3, 1.8, 1.2, 1.6, 1.3, 1.5],
  [2, 1.8, 1.7, 1.7, 1.9, 2.2, 2.5, 3, 4, 5, 6, 8, 10, 12, 15, 18, 20, 25, 30, 10, 2.5, 1.6, 2, 1.3, 1.6, 1.1, 1.5, 1, 1.3, 1.1, 1.2],
  [1.5, 1.5, 1.5, 1.5, 1.7, 2, 2.2, 2.5, 3, 4, 5, 6, 8, 10, 12, 14, 16, 20, 25, 8, 2, 1.3, 1.6, 1, 1.3, 0.9, 1.2, 0.8, 1.1, 0.9, 1]
];
const quakeOBS06GrayHigh = [
  [100, 50, 30, 20, 25, 12, 16, 9, 12, 7, 10, 14, 7, 10, 6, 9, 12, 6, 9, 7, 10, 6, 8, 11, 6, 8],
  [60, 30, 20, 12, 15, 8, 10, 6, 8, 5, 7, 5, 8, 5, 7, 10, 5, 7, 5, 6, 8, 5, 7, 5, 6, 5],
  [40, 20, 12, 8, 10, 5, 7, 4.5, 6, 4, 5, 4, 6, 4, 5, 3.5, 5, 4, 6, 4, 4.5, 3.5, 5, 4, 4.5, 4],
  [25, 14, 8, 6, 7, 4, 5, 3.5, 4.5, 3, 4, 3, 3.5, 4.5, 3, 3.5, 3, 4, 3, 3.5, 3, 4, 3, 3.5, 3, 3.5],
  [15, 8, 5, 4, 4.5, 3, 3.5, 2.5, 3, 2.2, 2.8, 2.2, 2.6, 2, 2.8, 2.2, 2.5, 2, 2.6, 2.2, 2.4, 2, 2.6, 2.1, 2.4, 2.2],
  [10, 5, 3.5, 2.5, 3, 2, 2.4, 1.8, 2, 1.5, 1.8, 1.4, 1.7, 1.3, 1.6, 1.4, 1.2, 1.5, 1.3, 1.6, 1.2, 1.5, 1.3, 1.4, 1.2, 1.4]
];
const quakeOBS06Median = [12, 7, 5.5, 4.5, 5, 6.5, 6.8, 7, 8, 10, 15, 14, 25, 30, 40, 45, 50, 55, 60, 62, 60, 70, 85, 40, 15, 8, 6, 5, 5, 4.5, 5, 4.5, 4.8, 4.2, 5, 4.5, 4.8, 4.5];

// ---------------- DRAWING ----------------
const FONT = "'Open Sans', 'Noto Sans', 'DejaVu Sans', sans-serif";
const svg = d3.select("#chart");

const columns = [
  { title: columnTitles[0], cx: 344, peaks: peaksAmbient,
    gray: [ambientOBS02Gray, ambientOBS03Gray, ambientOBS04Gray, ambientOBS05Gray, ambientOBS06Gray],
    grayHigh: [ambientOBS02GrayHigh, ambientOBS03GrayHigh, ambientOBS04GrayHigh, ambientOBS05GrayHigh, ambientOBS06GrayHigh],
    median: [ambientOBS02Median, ambientOBS03Median, ambientOBS04Median, ambientOBS05Median, ambientOBS06Median] },
  { title: columnTitles[1], cx: 748, peaks: peaksQuake,
    gray: [quakeOBS02Gray, quakeOBS03Gray, quakeOBS04Gray, quakeOBS05Gray, quakeOBS06Gray],
    grayHigh: [quakeOBS02GrayHigh, quakeOBS03GrayHigh, quakeOBS04GrayHigh, quakeOBS05GrayHigh, quakeOBS06GrayHigh],
    median: [quakeOBS02Median, quakeOBS03Median, quakeOBS04Median, quakeOBS05Median, quakeOBS06Median] }
];

const colLeft = [105, 547.5];
const plotW = 435.2;
const rowTop0 = 51.7, rowStep = 165.5, plotH = 152.3;
const defs = svg.append("defs");
const GRAY = "#a8a8a8";

columns.forEach((col, c) => {
  const x = d3.scaleLog().domain(freqDomain).range([colLeft[c], colLeft[c] + plotW]);

  svg.append("text")
    .attr("x", col.cx).attr("y", 36.7)
    .attr("text-anchor", "middle")
    .attr("font-family", FONT).attr("font-size", 32).attr("fill", "#111")
    .text(col.title);

  stations.forEach((st, r) => {
    const top = rowTop0 + r * rowStep;
    const y = d3.scaleLog().domain(ratioDomain).range([top + plotH, top]);
    const smooth = d3.line().x(d => x(d[0])).y(d => y(d[1])).curve(d3.curveMonotoneX);
    const straight = d3.line().x(d => x(d[0])).y(d => y(d[1]));
    const g = svg.append("g");
    const clipId = `clip-${c}-${r}`;
    defs.append("clipPath").attr("id", clipId)
      .append("rect").attr("x", colLeft[c]).attr("y", top).attr("width", plotW).attr("height", plotH);

    // grid lines at 1 and 10 Hz (extend outside frame as major ticks)
    g.selectAll("line.grid").data(xMajorTicks).join("line")
      .attr("class", "grid")
      .attr("x1", d => x(d)).attr("x2", d => x(d))
      .attr("y1", top - 9).attr("y2", top + plotH + 9)
      .attr("stroke", "#8c8c8c").attr("stroke-width", 1);

    const plot = g.append("g").attr("clip-path", `url(#${clipId})`);
    plot.selectAll("path.grayhigh").data(col.grayHigh[r]).join("path")
      .attr("class", "grayhigh")
      .attr("d", vals => straight(vals.map((v, i) => [freqHigh[i], v])))
      .attr("fill", "none").attr("stroke", GRAY).attr("stroke-width", 1.4)
      .attr("stroke-linejoin", "round");
    plot.selectAll("path.gray").data(col.gray[r]).join("path")
      .attr("class", "gray")
      .attr("d", vals => smooth(vals.map((v, i) => [freqGray[i], v])))
      .attr("fill", "none").attr("stroke", GRAY).attr("stroke-width", 1.6)
      .attr("stroke-linejoin", "round");
    plot.append("path")
      .attr("d", smooth(col.median[r].map((v, i) => [freqMedian[i], v])))
      .attr("fill", "none").attr("stroke", "#141414").attr("stroke-width", 2.8)
      .attr("stroke-linejoin", "round");
    if (c === 0 && r === 3) {
      plot.append("path")
        .attr("d", straight(ambientOBS05ExtraFreq.map((f, i) => [f, ambientOBS05ExtraValues[i]])))
        .attr("fill", "none").attr("stroke", "#141414").attr("stroke-width", 2.6);
    }

    // frame
    g.append("rect")
      .attr("x", colLeft[c]).attr("y", top).attr("width", plotW).attr("height", plotH)
      .attr("fill", "none").attr("stroke", "#141414").attr("stroke-width", 3);

    // x minor ticks top and bottom
    const xt = g.append("g").attr("transform", `translate(0,${top - 1.5})`)
      .call(d3.axisTop(x).tickValues(xMinorTicks).tickSize(4.5).tickFormat(""));
    const xb = g.append("g").attr("transform", `translate(0,${top + plotH + 1.5})`)
      .call(d3.axisBottom(x).tickValues(xMinorTicks).tickSize(4.5).tickFormat(""));
    [xt, xb].forEach(a => { a.select(".domain").remove(); a.attr("color", "#222"); a.selectAll("line").attr("stroke-width", 1.1); });

    // y ticks
    const ym = g.append("g").attr("transform", `translate(${colLeft[c] - 1.5},0)`)
      .call(d3.axisLeft(y).tickValues(yMinorTicks).tickSize(4).tickFormat(""));
    const yM = g.append("g").attr("transform", `translate(${colLeft[c] - 1.5},0)`)
      .call(d3.axisLeft(y).tickValues(yMajorTicks).tickSize(7.5).tickPadding(8)
        .tickFormat((d, i) => c === 0 ? rowYTickLabels[r][i] : ""));
    [ym, yM].forEach(a => { a.select(".domain").remove(); a.attr("color", "#222"); a.selectAll("line").attr("stroke-width", 1.1); });
    yM.selectAll("text").attr("font-family", FONT).attr("font-size", 18.5).attr("fill", "#111");

    // panel labels
    g.append("text")
      .attr("x", colLeft[c] + 12.5).attr("y", top + 26.6)
      .attr("font-family", FONT).attr("font-size", 18).attr("fill", "#111")
      .text(st);
    g.append("text")
      .attr("x", colLeft[c] + 12.5).attr("y", top + 50.5)
      .attr("font-family", FONT).attr("font-size", 18).attr("fill", "#111")
      .text(col.peaks[r]);

    // x tick labels below last row
    if (r === stations.length - 1) {
      g.selectAll("text.xlab").data(xMajorTicks).join("text")
        .attr("class", "xlab")
        .attr("x", d => x(d)).attr("y", 896.7)
        .attr("text-anchor", "middle")
        .attr("font-family", FONT).attr("font-size", 18.5).attr("fill", "#111")
        .text((d, i) => xTickLabels[i]);
    }
  });
});

svg.append("text")
  .attr("x", 564).attr("y", 933)
  .attr("text-anchor", "middle")
  .attr("font-family", FONT).attr("font-size", 33).attr("fill", "#111")
  .text(xAxisTitle);

svg.append("text")
  .attr("transform", "translate(39,490) rotate(-90)")
  .attr("text-anchor", "middle")
  .attr("font-family", FONT).attr("font-size", 33).attr("fill", "#111")
  .text(yAxisTitle);
</script>
</body>
</html>
